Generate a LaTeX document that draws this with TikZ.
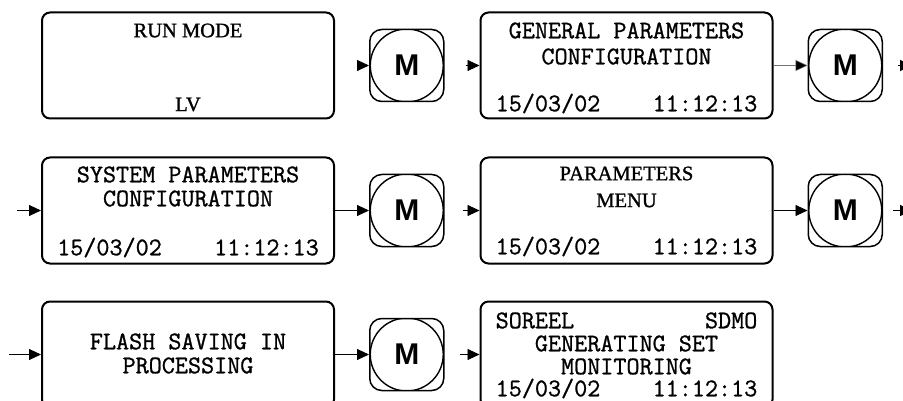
\documentclass[tikz,border=0pt]{standalone}
\usepackage{fontspec}
\setmainfont{Liberation Serif}
\setsansfont{Liberation Sans}
\newfontfamily\lcdmono[FakeBold=1]{Latin Modern Mono}
\newfontfamily\lcdserif[FakeBold=1.2]{Liberation Serif}
\usetikzlibrary{arrows.meta,positioning}

\begin{document}
\begin{tikzpicture}[
    node distance=37pt and 34pt,
    screen/.style={draw, rounded corners=8pt, line width=2pt, minimum width=292pt, minimum height=106pt, inner sep=0pt},
    mkey/.style={draw, rounded corners=12pt, line width=1.5pt, minimum width=74pt, minimum height=72pt, inner sep=0pt,
        font=\sffamily\bfseries\fontsize{30}{30}\selectfont,
        path picture={\draw[line width=1.4pt] (path picture bounding box.center) circle (36.5pt);}},
    lcd/.style={inner sep=0pt, font=\lcdmono\fontsize{25.4}{27}\selectfont},
    lcdrm/.style={inner sep=0pt, font=\lcdserif\fontsize{20.5}{22}\selectfont},
    arrow/.style={-{Triangle[length=12pt, width=11pt]}, line width=0.9pt}
]
\useasboundingbox (0pt,0pt) rectangle (903pt,-401pt);
\clip (0pt,0pt) rectangle (903pt,-401pt);

\node[screen] (run) at (188pt,-65.5pt) {};
\node[mkey, right=of run] (m1) {M};
\node[screen, right=35pt of m1] (general) {};
\node[mkey, right=of general] (m2) {M};

\node[screen, below=of run] (system) {};
\node[mkey, right=of system] (m3) {M};
\node[screen, right=35pt of m3] (params) {};
\node[mkey, right=of params] (m4) {M};

\node[screen, below=36pt of system] (flash) {};
\node[mkey, right=of flash] (m5) {M};
\node[screen, right=35pt of m5] (monitor) {};

\node[lcdrm] (run1) at ([yshift=-19pt]run.north) {RUN MODE};
\node[lcdrm] (run2) at ([yshift=15pt]run.south) {LV};

\node[lcd] (gen1) at ([yshift=-19pt]general.north) {GENERAL PARAMETERS};
\node[lcd] (gen2) at ([yshift=-45pt]general.north) {CONFIGURATION};
\node[lcd] (gen3) at ([yshift=16pt]general.south) {15/03/02~~~~11:12:13};

\node[lcd] (sys1) at ([yshift=-18pt]system.north) {SYSTEM PARAMETERS};
\node[lcd] (sys2) at ([yshift=-42pt]system.north) {CONFIGURATION};
\node[lcd] (sys3) at ([yshift=17pt]system.south) {15/03/02~~~~11:12:13};

\node[lcdrm] (par1) at ([yshift=-17pt]params.north) {PARAMETERS};
\node[lcdrm] (par2) at ([yshift=-44pt]params.north) {MENU};
\node[lcd] (par3) at ([yshift=18pt]params.south) {15/03/02~~~~11:12:13};

\node[lcd] (fl1) at ([yshift=-41pt]flash.north) {FLASH SAVING IN};
\node[lcd] (fl2) at ([yshift=-65pt]flash.north) {PROCESSING};

\node[lcd] (mon1) at ([yshift=-20pt]monitor.north) {SOREEL~~~~~~~~~~SDMO};
\node[lcd] (mon2) at ([yshift=-43pt]monitor.north) {GENERATING SET};
\node[lcd] (mon3) at ([yshift=-66pt]monitor.north) {MONITORING};
\node[lcd] (mon4) at ([yshift=-88pt]monitor.north) {15/03/02~~~~11:12:13};

\coordinate[right=29pt of m2.east] (out1);
\coordinate[right=29pt of m4.east] (out2);
\coordinate[left=24pt of system.west] (in1);
\coordinate[left=32pt of flash.west] (in2);

\draw[arrow, shorten <=22pt] (run) -- (m1);
\draw[arrow, shorten <=21pt] (m1) -- (general);
\draw[arrow, draw=black!55, line width=0.5pt, -{Triangle[length=12pt, width=11pt, fill=black]}] (general) -- (m2);
\draw[arrow, shorten <=15pt] (m2) -- (out1);
\draw[arrow] (in1) -- (system);
\draw[arrow] (system) -- (m3);
\draw[arrow, shorten <=18pt] (m3) -- (params);
\draw[arrow] (params) -- (m4);
\draw[arrow, shorten <=10pt] (m4) -- (out2);
\draw[arrow] (in2) -- (flash);
\draw[arrow] (flash) -- (m5);
\draw[arrow, shorten <=15pt] (m5) -- (monitor);
\end{tikzpicture}
\end{document}
